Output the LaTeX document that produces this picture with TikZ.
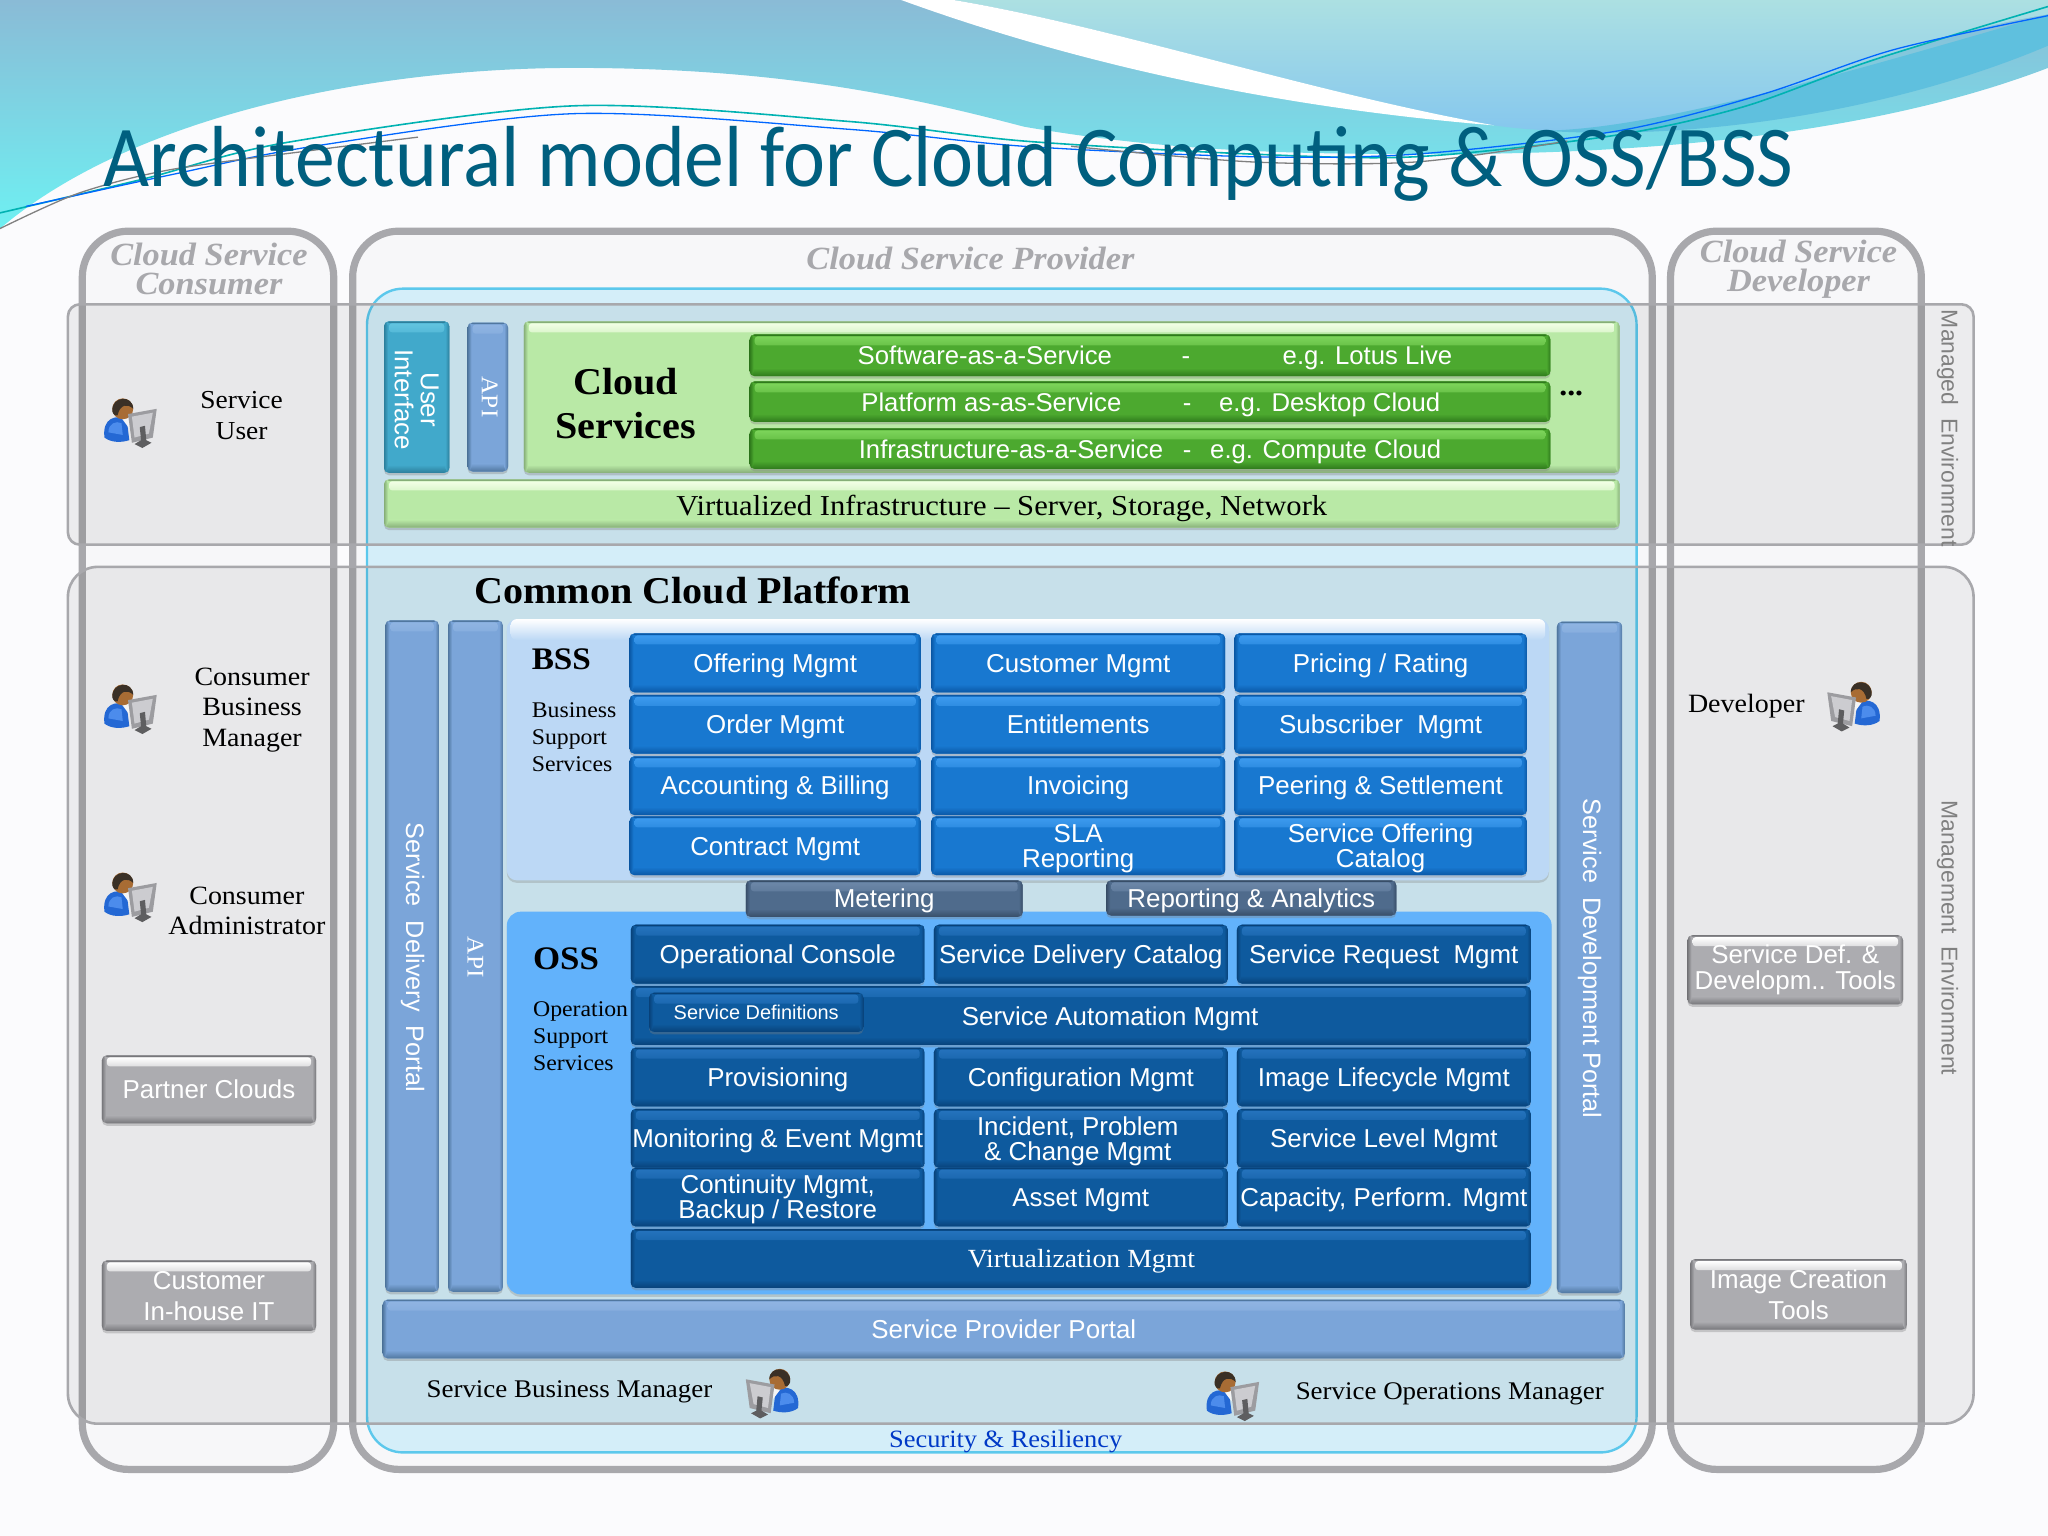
\documentclass[tikz,border=0pt]{standalone}
\usepackage{fontspec}
\usepackage{graphicx}
\setmainfont[FakeStretch=1.06]{Liberation Serif}
\newfontfamily\sansf{Liberation Sans}
\newfontfamily\titlef{Carlito}
\usetikzlibrary{shadows}
\definecolor{pagebg}{HTML}{FBFBFD}
\definecolor{panelfill}{HTML}{F7F7F9}
\definecolor{panelline}{HTML}{A8A8AC}
\definecolor{cyanline}{HTML}{5CC8EC}
\definecolor{cyanfill}{HTML}{D4EEF9}
\definecolor{titlec}{HTML}{005F7F}
\definecolor{wtop}{HTML}{8ABBD6}
\definecolor{wbot}{HTML}{6EF0F2}
\definecolor{rtop}{HTML}{ACE0E2}
\definecolor{rbot}{HTML}{84C6EE}
\definecolor{rband}{HTML}{5FC0DE}
\definecolor{lgreen}{HTML}{B9E9A6}
\definecolor{lgreenT}{HTML}{F2FFE6}
\definecolor{lgreenD}{HTML}{86AE78}
\definecolor{mgreen}{HTML}{4CA92F}
\definecolor{mgreenT}{HTML}{7CD45A}
\definecolor{mgreenD}{HTML}{2F7A1C}
\definecolor{bblue}{HTML}{1878D0}
\definecolor{bblueT}{HTML}{3C9AEE}
\definecolor{bblueD}{HTML}{0A58A6}
\definecolor{dblue}{HTML}{0E5A9E}
\definecolor{dblueT}{HTML}{2472BC}
\definecolor{dblueD}{HTML}{08427A}
\definecolor{peri}{HTML}{7BA5D9}
\definecolor{periT}{HTML}{8FB4E2}
\definecolor{periD}{HTML}{50779F}
\definecolor{teal1}{HTML}{41A9CB}
\definecolor{teal1T}{HTML}{62C4E0}
\definecolor{teal1D}{HTML}{2C7F9C}
\definecolor{steel}{HTML}{4F6B8C}
\definecolor{steelT}{HTML}{6C87A8}
\definecolor{steelD}{HTML}{384E68}
\definecolor{gbtn}{HTML}{ACACB0}
\definecolor{gbtnD}{HTML}{77777B}
\definecolor{bsspanel}{HTML}{BCD8F5}
\definecolor{osspanel}{HTML}{62B2FB}
\definecolor{headc}{HTML}{A8A8AC}
\definecolor{iconbody}{HTML}{2468D4}
\definecolor{iconlite}{HTML}{4C8CEC}
\definecolor{iconface}{HTML}{A86C34}
\definecolor{iconhair}{HTML}{3A3026}
\definecolor{iconmon}{HTML}{9C9CA0}
\definecolor{iconscr}{HTML}{CCCCD0}
\definecolor{iconbase}{HTML}{5E5E60}
\tikzset{
  panel/.style={draw=panelline,line width=7.2bp,fill=panelfill,rounded corners=46bp},
  envbox/.style={draw=panelline,line width=2.6bp,fill=black,fill opacity=.06},
  bevel/.style args={#1/#2/#3}{fill=#1,draw=none,inner sep=0pt,text=white,align=center,
    rounded corners=5bp,
    drop shadow={shadow xshift=0bp,shadow yshift=-2.5bp,opacity=.35},
    path picture={
      \fill[#3] (path picture bounding box.north west) rectangle ([yshift=-1.5bp]path picture bounding box.north east);
      \shade[top color=#2,bottom color=#2!60!#1,rounded corners=3bp] ([xshift=5bp,yshift=-2bp]path picture bounding box.north west) rectangle ([xshift=-5bp,yshift=-11bp]path picture bounding box.north east);
      \shade[top color=#1,bottom color=#3] ([yshift=8bp]path picture bounding box.south west) rectangle (path picture bounding box.south east);
      \shade[left color=#3,right color=#1] (path picture bounding box.north west) rectangle ([xshift=4bp]path picture bounding box.south west);
      \shade[left color=#1,right color=#3] ([xshift=-4bp]path picture bounding box.north east) rectangle (path picture bounding box.south east);
    }},
  sansm/.style={font=\sansf\fontsize{26}{25}\selectfont,text height=24bp,text depth=5.4bp},
  greenbar/.style={bevel=mgreen/mgreenT/mgreenD},
  lightbar/.style={bevel=lgreen/lgreenT/lgreenD,text=black},
  bluebtn/.style={bevel=bblue/bblueT/bblueD},
  darkbtn/.style={bevel=dblue/dblueT/dblueD},
  steelbtn/.style={bevel=steel/steelT/steelD,sansm},
  grayb/.style={bevel=gbtn/white/gbtnD,sansm},
  graybb/.style={bevel=gbtn/white/gbtnD},
  perib/.style={bevel=peri/periT/periD,sansm},
  tealb/.style={bevel=teal1/teal1T/teal1D},
  rtext/.style={rotate=-90,text=white,align=center,font=\sansf\fontsize{25.3}{26}\selectfont,inner sep=0pt},
  rapi/.style={rotate=-90,text=white,font=\fontsize{24}{24}\selectfont,inner sep=0pt},
  head/.style={text=headc,font=\bfseries\itshape\fontsize{32.5}{29}\selectfont,align=center,inner sep=0pt},
  lab/.style={text=black,font=\fontsize{26.5}{30.7}\selectfont,align=center,inner sep=0pt},
  labb/.style={text=black,font=\fontsize{25.5}{26}\selectfont,align=center,inner sep=0pt},
  labl/.style={text=black,font=\fontsize{22.5}{27}\selectfont,align=left,inner sep=0pt,anchor=north west},
  bighead/.style={text=black,font=\bfseries\fontsize{38}{44}\selectfont,align=center,inner sep=0pt},
  envtext/.style={rotate=-90,text=black!50,font=\sansf\fontsize{23}{23}\selectfont,inner sep=0pt},
  gt/.style={text=white,font=\sansf\fontsize{25.8}{26}\selectfont,inner sep=0pt,text height=24bp,text depth=5.4bp},
  bt/.style={text=white,font=\sansf\fontsize{26}{25}\selectfont,inner sep=0pt,align=center,text height=24bp,text depth=5.4bp},
  btt/.style={text=white,font=\sansf\fontsize{26}{25}\selectfont,inner sep=0pt,align=center,yshift=-2.6bp},
  pics/person/.style={code={
    \fill[iconbody] (-21,13) .. controls (-23,-2) and (-12,-5) .. (-4,-1) -- (-2,15) .. controls (-8,17) and (-16,17) .. cycle;
    \fill[iconlite] (-18,9) .. controls (-18,2) and (-12,0) .. (-8,2) -- (-7,11) -- cycle;
    \fill[white!92!gray] (-8,-2) -- (-2,-2) -- (-2,6) -- cycle;
    \fill[iconface] (-7,-9) circle (8);
    \fill[iconhair] (-15,-7) .. controls (-16,-19) and (1,-20) .. (1,-9) .. controls (-3,-13) and (-9,-13) .. (-11,-4) .. controls (-12,-3) and (-14,-4) .. cycle;
    \fill[iconmon] (-3,-5) -- (19,-9) -- (16,13) -- (0,17) -- cycle;
    \fill[iconscr] (0,-3) -- (16,-6) -- (13,10) -- (2,13) -- cycle;
    \fill[iconbase] (6,5) -- (10,4) -- (11,15) -- (15,17) -- (8,21) -- (2,18) -- (7,15) -- cycle;
  }}
}
\newcommand{\bx}[7]{\node[#1,minimum width={(#5-#3)*1.30612bp},minimum height={(#6-#4)*1.30612bp}] (#2) at ({(#3+#5)/2},{(#4+#6)/2}) {#7};}
\begin{document}
\begin{tikzpicture}[x=1.30612bp,y=-1.30612bp]
\useasboundingbox (0,0) rectangle (1568,1176);
\fill[pagebg] (0,0) rectangle (1568,1176);
% waves
\shade[top color=wtop,bottom color=wbot] (0,175) .. controls (100,90) and (280,52) .. (440,52) .. controls (600,52) and (700,75) .. (784,97) .. controls (900,117) and (1000,118) .. (1100,118) .. controls (1250,118) and (1430,105) .. (1568,52) -- (1568,0) -- (0,0) -- cycle;
\shade[top color=rtop,bottom color=rbot] (730,0) .. controls (850,20) and (1000,70) .. (1144,96) .. controls (1200,104) and (1260,100) .. (1300,88) .. controls (1400,60) and (1480,25) .. (1568,11) -- (1568,0) -- cycle;
\fill[rband] (1180,100) .. controls (1260,100) and (1400,60) .. (1568,11) -- (1568,35) .. controls (1450,85) and (1300,108) .. cycle;
\fill[white] (690,0) .. controls (800,40) and (950,80) .. (1144,96) .. controls (1000,70) and (850,20) .. (730,0) -- cycle;
\draw[teal!60!cyan,line width=1.6bp] plot[smooth] coordinates {(0,163) (110,137) (220,109) (440,81) (650,93) (784,108) (959,118) (1084,120) (1234,104) (1334,82) (1434,46) (1568,5)};
\draw[blue!60!cyan,line width=1.3bp] plot[smooth] coordinates {(20,158) (130,134) (240,112) (440,87) (650,99) (784,112) (959,120) (1084,118) (1240,100) (1350,72) (1450,38) (1568,12)};
\draw[gray,line width=1.3bp] plot[smooth] coordinates {(0,175) (60,148) (130,130) (240,115) (320,105)};
\draw[gray,line width=1.3bp] plot[smooth] coordinates {(820,112) (959,124) (1084,124) (1200,108)};
\node[text=titlec,font=\titlef\fontsize{87}{87}\selectfont,anchor=base west,inner sep=0pt] (title) at (79,143) {\scalebox{.918}[1]{Architectural model for Cloud Computing \& OSS/BSS}};
% panels
\path[panel] (63,177) rectangle (255.5,1125);
\path[panel] (270,177) rectangle (1265,1125);
\path[panel] (1279,177) rectangle (1471,1125);
\path[draw=cyanline,line width=2.4bp,fill=cyanfill,rounded corners=36bp] (281,221) rectangle (1253,1112);
\path[envbox,rounded corners=12bp] (52,233) rectangle (1511,417);
\path[envbox,rounded corners=30bp] (52,434) rectangle (1511,1090);
\node[head] (consumerh) at (160,206) {Cloud Service\\Consumer};
\node[head] (providerh) at (743,198) {Cloud Service Provider};
\node[head] (developerh) at (1377,206) {Cloud Service\\Developer};
\node[envtext] (managedt) at (1491,328) {Managed\ \ Environment};
\node[envtext] (mgmtt) at (1491,718) {Management\ \ Environment};
% left column
\pic at (101,322) {person};
\node[lab,font=\fontsize{26}{30.7}\selectfont] (suser) at (185,318) {Service\\User};
\pic at (101,541) {person};
\node[lab] (cbm) at (193,543.5) {Consumer\\Business\\Manager};
\pic at (101,685) {person};
\node[lab] (cadm) at (189,697.5) {Consumer\\Administrator};
\bx{grayb}{partner}{78}{808}{242}{860}{Partner Clouds}
\bx{graybb,font=\sansf\fontsize{26}{31}\selectfont,yshift=-1.3bp}{inhouse}{78}{964}{242}{1018}{Customer\\In-house IT}
% right column
\node[lab] (dev) at (1337,541) {Developer};
\pic[xscale=-1] at (1418,539) {person};
\bx{graybb,font=\sansf\fontsize{26}{26.5}\selectfont}{sdef}{1292}{716}{1457}{769}{Service Def. \&\\Developm.. Tools}
\bx{graybb,font=\sansf\fontsize{26}{31}\selectfont}{imgc}{1294}{964}{1460}{1018}{Image Creation\\Tools}
% cloud services
\bx{tealb}{ui}{294}{246}{344}{362}{}
\node[rtext,font=\sansf\fontsize{26}{26}\selectfont] (uit) at (319,306) {User\\Interface};
\bx{perib}{api1}{358}{247}{389}{361}{}
\node[rapi] (api1t) at (375,304) {API};
\bx{lightbar}{cs}{401}{246}{1240}{362}{}
\node[bighead] (cst) at (479,309) {Cloud\\Services};
\node[text=black,font=\bfseries\fontsize{30}{30}\selectfont,inner sep=0pt] (dots) at (1203,301) {...};
\bx{greenbar}{saas}{574}{256}{1187}{288}{}
\bx{greenbar}{paas}{574}{292}{1187}{323}{}
\bx{greenbar}{iaas}{574}{328}{1187}{359}{}
\node[gt] (g1a) at (754,272) {Software-as-a-Service};
\node[gt] (g1b) at (908,272) {-};
\node[gt] (g1c) at (1047,272) {e.g. Lotus Live};
\node[gt] (g2a) at (759,308) {Platform as-as-Service};
\node[gt] (g2b) at (909,308) {-};
\node[gt] (g2c) at (1018,308) {e.g. Desktop Cloud};
\node[gt] (g3a) at (774,344) {Infrastructure-as-a-Service};
\node[gt] (g3b) at (909,344) {-};
\node[gt] (g3c) at (1015,344) {e.g. Compute Cloud};
\bx{lightbar}{virt}{294}{367}{1240}{404}{}
\node[text=black,font=\fontsize{29}{29}\selectfont,inner sep=0pt] (virtt) at (767,389) {Virtualized Infrastructure – Server, Storage, Network};
\node[bighead,anchor=west] (ccp) at (363,452) {Common Cloud Platform};
% portals
\bx{perib}{sdp}{295}{475}{336}{989}{}
\node[rtext] (sdpt) at (316,733) {Service\ \ Delivery\ \ Portal};
\bx{perib}{api2}{343}{475}{385}{989}{}
\node[rapi] (api2t) at (364,733) {API};
\bx{perib}{sdvp}{1192}{476}{1242}{990}{}
\node[rtext] (sdvpt) at (1217,734) {Service\ \ Development Portal};
% BSS
\path[fill=bsspanel,rounded corners=10bp,drop shadow={shadow xshift=0bp,shadow yshift=-2.5bp,opacity=.3}] (388,474) rectangle (1186,674);
\shade[top color=white,bottom color=bsspanel,rounded corners=6bp] (391,474) rectangle (1183,490);
\node[bighead,font=\bfseries\fontsize{31.5}{33}\selectfont,anchor=west] (bss) at (407,505) {BSS};
\node[labl] (bsst) at (407,538) {Business\\Support\\Services};
\foreach \nm/\ya/\yb in {a/485/530,b/532/577,c/579/624,d/625/670}{
  \bx{bluebtn}{b1\nm}{482}{\ya}{705}{\yb}{}
  \bx{bluebtn}{b2\nm}{713}{\ya}{938}{\yb}{}
  \bx{bluebtn}{b3\nm}{945}{\ya}{1169}{\yb}{}
}
\node[bt] (t1) at (b1a.center) {Offering Mgmt};
\node[bt] (t2) at (b2a.center) {Customer Mgmt};
\node[bt] (t3) at (b3a.center) {Pricing / Rating};
\node[bt] (t4) at (b1b.center) {Order Mgmt};
\node[bt] (t5) at (b2b.center) {Entitlements};
\node[bt] (t6) at (b3b.center) {Subscriber\ \ Mgmt};
\node[bt] (t7) at (b1c.center) {Accounting \& Billing};
\node[bt] (t8) at (b2c.center) {Invoicing};
\node[bt] (t9) at (b3c.center) {Peering \& Settlement};
\node[bt] (t10) at (b1d.center) {Contract Mgmt};
\node[btt] (t11) at (b2d.center) {SLA\\Reporting};
\node[btt] (t12) at (b3d.center) {Service Offering\\Catalog};
% OSS
\path[fill=osspanel,rounded corners=14bp,drop shadow={shadow xshift=0bp,shadow yshift=-2.5bp,opacity=.3}] (388,698) rectangle (1188,991);
\bx{steelbtn}{meter}{571}{674}{783}{702}{Metering}
\bx{steelbtn}{report}{847}{674}{1069}{701}{Reporting \& Analytics}
\node[bighead,font=\bfseries\fontsize{33}{33}\selectfont,anchor=west] (oss) at (408,734) {OSS};
\node[labl] (osst) at (408,767) {Operation\\Support\\Services};
\foreach \nm/\ya/\yb in {a/708/753,c/802/847,d/849/894,e/894/939}{
  \bx{darkbtn}{o1\nm}{483}{\ya}{708}{\yb}{}
  \bx{darkbtn}{o2\nm}{715}{\ya}{940}{\yb}{}
  \bx{darkbtn}{o3\nm}{947}{\ya}{1172}{\yb}{}
}
\bx{darkbtn}{oauto}{483}{755}{1172}{800}{}
\bx{darkbtn}{ovirt}{483}{941}{1172}{986}{}
\bx{darkbtn,font=\sansf\fontsize{20}{20}\selectfont,text height=18.5bp,text depth=4.5bp}{odef}{497}{760}{661}{790}{Service Definitions}
\node[bt] (u1) at (o1a.center) {Operational Console};
\node[bt] (u2) at (o2a.center) {Service Delivery Catalog};
\node[bt] (u3) at (o3a.center) {Service Request\ \ Mgmt};
\node[bt] (u4) at (850,778) {Service Automation Mgmt};
\node[bt] (u5) at (o1c.center) {Provisioning};
\node[bt] (u6) at (o2c.center) {Configuration Mgmt};
\node[bt] (u7) at (o3c.center) {Image Lifecycle Mgmt};
\node[bt] (u8) at (o1d.center) {Monitoring \& Event Mgmt};
\node[btt,xshift=-3bp] (u9) at (o2d.center) {Incident, Problem\\\& Change Mgmt};
\node[bt] (u10) at (o3d.center) {Service Level Mgmt};
\node[btt] (u11) at (o1e.center) {Continuity Mgmt,\\Backup / Restore};
\node[bt] (u12) at (o2e.center) {Asset Mgmt};
\node[bt] (u13) at (o3e.center) {Capacity, Perform. Mgmt};
\node[text=white,font=\fontsize{26.3}{26}\selectfont,inner sep=0pt] (u14) at (828,965.5) {Virtualization Mgmt};
% bottom
\bx{perib}{spp}{293}{995}{1244}{1040}{Service Provider Portal}
\node[labb] (sbm) at (436,1065.5) {Service Business Manager};
\pic[xscale=-1] at (590,1065) {person};
\pic at (945,1067) {person};
\node[labb] (som) at (1110,1067.5) {Service Operations Manager};
\node[text=blue!55!teal,font=\fontsize{25}{25}\selectfont,inner sep=0pt] (sec) at (770,1103.5) {Security \& Resiliency};
\end{tikzpicture}
\end{document}
